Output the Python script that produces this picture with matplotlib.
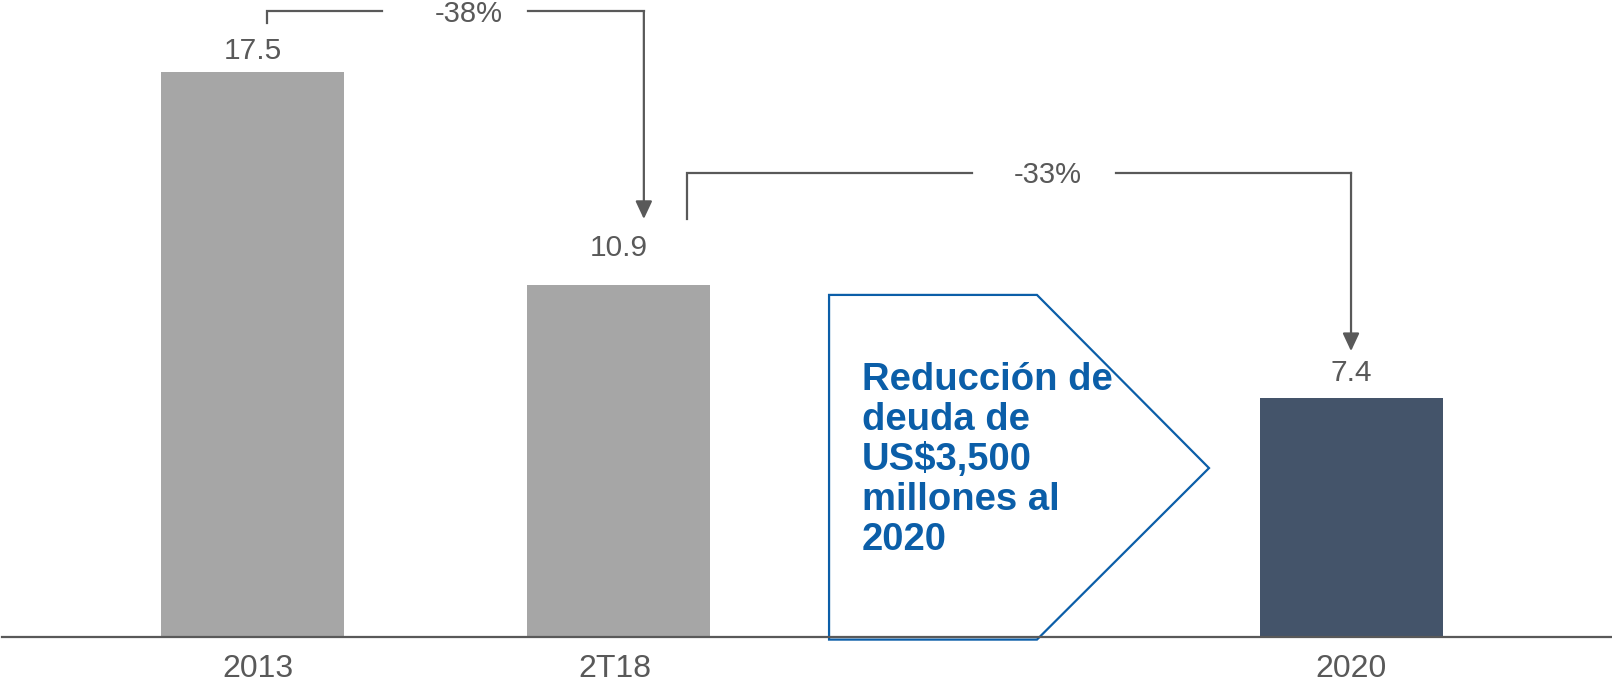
import matplotlib.pyplot as plt
from matplotlib.patches import Polygon

plt.rcParams['font.family'] = ['Liberation Sans', 'DejaVu Sans']

# Deuda (US$ miles de millones)
categories = ['2013', '2T18', '2020']
values = [17.5, 10.9, 7.4]
bar_colors = ['#a6a6a6', '#a6a6a6', '#44546a']
change_labels = ['-38%', '-33%']
callout_text = 'Reducción de\ndeuda de\nUS$3,500\nmillones al\n2020'

GRAY = '#595959'
BLUE = '#0b5ea8'

fig = plt.figure(figsize=(16.12, 6.85), dpi=100)
ax = fig.add_axes([0, 0, 1, 1])
ax.set_xlim(-0.691, 3.713)
ax.set_ylim(-1.486, 19.72)
ax.axis('off')

xpos = [0, 1, 3]
ax.bar(xpos, values, width=0.5, color=bar_colors, zorder=2)
ax.axhline(0, xmin=0.001, xmax=1, color=GRAY, lw=1.6, zorder=4)

label_offsets = [21, 37, 25]
for x, v, off in zip(xpos, values, label_offsets):
    ax.annotate(f'{v:.1f}', xy=(x, v), xytext=(0, off), textcoords='offset pixels',
                ha='center', va='center', fontsize=21.5, color=GRAY)
tick_shift = [0.015, -0.01, 0.0]
for x, c, s in zip(xpos, categories, tick_shift):
    ax.text(x + s, -0.99, c, ha='center', va='center', fontsize=23, color=GRAY)


def bracket(xl, ylow, ytop, gap_l, gap_r, xr, tip, label, xlabel):
    ax.plot([xl, xl, gap_l], [ylow, ytop, ytop], color=GRAY, lw=1.6,
            solid_joinstyle='miter', clip_on=False)
    ax.plot([gap_r, xr], [ytop, ytop], color=GRAY, lw=1.6, clip_on=False)
    ax.annotate('', xy=(xr, tip), xytext=(xr, ytop),
                arrowprops=dict(arrowstyle='-|>,head_length=0.6,head_width=0.28',
                                mutation_scale=18, color=GRAY, lw=1.6,
                                shrinkA=0, shrinkB=0))
    ax.text(xlabel, ytop - 0.08, label, ha='center', va='center',
            fontsize=21, color=GRAY)


bracket(0.038, 19.0, 19.37, 0.352, 0.751, xpos[1] + 0.068, values[1] + 2.04,
        change_labels[0], 0.59)
bracket(1.186, values[1] + 2.04, 14.37, 1.964, 2.358, xpos[2], values[2] + 1.45,
        change_labels[1], 2.172)

# flecha de texto
arrow_box = Polygon([(1.574, 10.59), (2.142, 10.59), (2.612, 5.23),
                     (2.142, -0.08), (1.574, -0.08)], closed=True,
                    facecolor='white', edgecolor=BLUE, lw=1.6, zorder=3)
ax.add_patch(arrow_box)
ax.text(1.664, 5.48, callout_text, ha='left', va='center', fontsize=27.5,
        fontweight='bold', color=BLUE, linespacing=1.14, zorder=5)

fig.savefig('out.png', dpi=100)
